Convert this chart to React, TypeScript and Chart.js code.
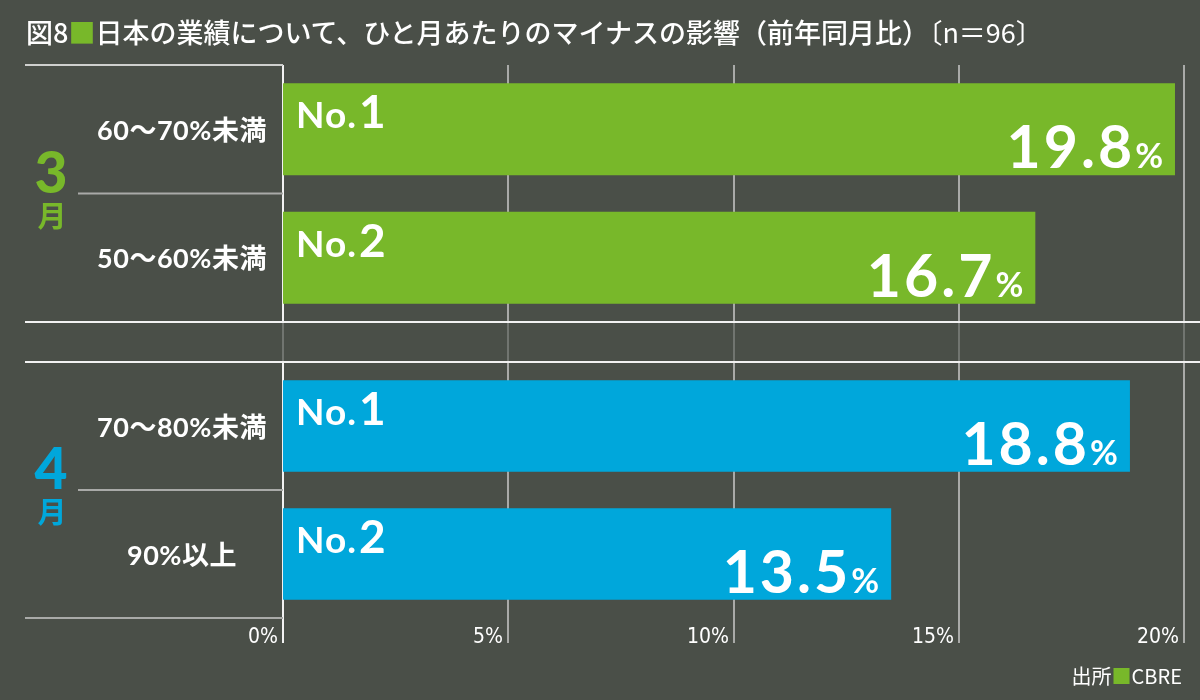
import React, { useEffect, useRef } from 'react';
import { Chart, registerables } from 'chart.js';

Chart.register(...registerables);

// ---- chart content ----
const TITLE_FIG = '図8';
const TITLE_TEXT = '日本の業績について、ひと月あたりのマイナスの影響（前年同月比）';
const TITLE_NOTE = '〔n＝96〕';
const SOURCE_LABEL = '出所';
const SOURCE_NAME = 'CBRE';

const monthNumbers = ['3', '4'];
const monthUnit = '月';
const marchCategories = ['60〜70%未満', '50〜60%未満'];
const marchValues = [19.8, 16.7];
const aprilCategories = ['70〜80%未満', '90%以上'];
const aprilValues = [18.8, 13.5];
const rankLabels = ['No.1', 'No.2'];
const xTickValues = [0, 5, 10, 15, 20];

// ---- look ----
const W = 1200;
const H = 700;
const BG = '#4a4f48';
const GREEN = '#78b82a';
const BLUE = '#00a7db';
const PLOT_LEFT = 283;
const PLOT_RIGHT = 1184;
const LINE_LEFT = 25;
const SUBLINE_LEFT = 78;
const LABEL_CENTER_X = 182;
const MONTH_CENTER_X = 51;
const GAP = 40;
const TICK_DROP = 25;
const JP = "'Noto Sans CJK JP', sans-serif";
const NUM = "Lato, 'Noto Sans CJK JP', sans-serif";
const COND = "'Liberation Sans Narrow', 'DejaVu Sans Condensed', 'Roboto', sans-serif";

type PanelOpts = {
  key: string;
  month: string;
  color: string;
  categories: string[];
  values: number[];
  top: number;
  bottom: number;
  first: boolean;
  last: boolean;
};

function hLine(ctx: CanvasRenderingContext2D, x1: number, x2: number, y: number, color: string) {
  ctx.strokeStyle = color;
  ctx.lineWidth = 2;
  ctx.beginPath();
  ctx.moveTo(x1, y);
  ctx.lineTo(x2, y);
  ctx.stroke();
}

function vLine(ctx: CanvasRenderingContext2D, x: number, y1: number, y2: number, color: string) {
  ctx.strokeStyle = color;
  ctx.lineWidth = 2;
  ctx.beginPath();
  ctx.moveTo(x, y1);
  ctx.lineTo(x, y2);
  ctx.stroke();
}

function setSpacing(ctx: any, px: number) {
  if ('letterSpacing' in ctx) ctx.letterSpacing = `${px}px`;
}

function panelPlugin(o: PanelOpts) {
  return {
    id: 'panel-' + o.key,
    beforeDatasetsDraw(chart: any) {
      const { ctx, chartArea: a, scales } = chart;
      const xs = scales.x;
      const ys = scales.y;
      ctx.save();

      // vertical grid lines
      const gridBottom = o.last ? a.bottom + TICK_DROP : a.bottom;
      xTickValues.forEach((v) => {
        const px = Math.round(xs.getPixelForValue(v));
        vLine(ctx, px, a.top, gridBottom, v === 0 ? '#f2f2f2' : '#a9aaa8');
        if (!o.first) {
          vLine(ctx, px, a.top - GAP, a.top, 'rgba(255,255,255,0.22)');
        }
      });

      // horizontal rules of the label column
      if (o.first) hLine(ctx, LINE_LEFT, a.left, a.top, '#cfd0ce');
      else hLine(ctx, LINE_LEFT, W, a.top, '#f2f2f2');
      if (o.last) hLine(ctx, LINE_LEFT, a.left, a.bottom, '#a9aaa8');
      else hLine(ctx, LINE_LEFT, W, a.bottom, '#f2f2f2');
      const mid = (ys.getPixelForValue(0) + ys.getPixelForValue(1)) / 2;
      hLine(ctx, SUBLINE_LEFT, a.left, mid, '#a9aaa8');

      // category labels
      ctx.fillStyle = '#ffffff';
      ctx.font = `bold 27px ${NUM}`;
      setSpacing(ctx, 0.5);
      ctx.textAlign = 'center';
      ctx.textBaseline = 'middle';
      o.categories.forEach((c, i) => {
        ctx.fillText(c, LABEL_CENTER_X, ys.getPixelForValue(i) + 2);
      });
      setSpacing(ctx, 0);

      // month label
      ctx.fillStyle = o.color;
      ctx.font = `900 57px ${NUM}`;
      ctx.textBaseline = 'alphabetic';
      ctx.fillText(o.month, MONTH_CENTER_X, mid - 1);
      ctx.font = `bold 29px ${JP}`;
      ctx.textBaseline = 'middle';
      ctx.fillText(monthUnit, MONTH_CENTER_X + 1, mid + 22);

      // x tick labels
      if (o.last) {
        ctx.fillStyle = '#ffffff';
        ctx.font = `21px ${COND}`;
        ctx.textAlign = 'right';
        ctx.textBaseline = 'alphabetic';
        xTickValues.forEach((v) => {
          const px = Math.round(xs.getPixelForValue(v));
          ctx.fillText(`${v}%`, px - 5, a.bottom + TICK_DROP);
        });
      }
      ctx.restore();
    },
    afterDatasetsDraw(chart: any) {
      const { ctx } = chart;
      const meta = chart.getDatasetMeta(0);
      ctx.save();
      ctx.fillStyle = '#ffffff';
      meta.data.forEach((bar: any, i: number) => {
        const { x, y, base, height } = bar.getProps(['x', 'y', 'base', 'height'], true);
        const top = y - height / 2;
        const bottom = y + height / 2;

        // rank label
        const rank = rankLabels[i];
        const prefix = rank.slice(0, rank.length - 1);
        const digit = rank.slice(rank.length - 1);
        ctx.textAlign = 'left';
        ctx.textBaseline = 'alphabetic';
        ctx.font = `bold 37px ${NUM}`;
        setSpacing(ctx, 1);
        const px0 = base + 13;
        ctx.fillText(prefix, px0, top + 45);
        const pw = ctx.measureText(prefix).width;
        ctx.font = `bold 46px ${NUM}`;
        ctx.fillText(digit, px0 + pw + 2, top + 45);

        // value label
        const v = o.values[i];
        ctx.textAlign = 'right';
        ctx.font = `bold 34px ${NUM}`;
        setSpacing(ctx, 0);
        const right = x - 12;
        ctx.fillText('%', right, bottom - 7);
        const w = ctx.measureText('%').width;
        ctx.font = `bold 59px ${NUM}`;
        setSpacing(ctx, 3);
        ctx.fillText(v.toFixed(1), right - w, bottom - 7);
        setSpacing(ctx, 0);
      });
      ctx.restore();
    },
  };
}

function makeConfig(o: PanelOpts): any {
  return {
    type: 'bar',
    data: {
      labels: o.categories,
      datasets: [
        {
          data: o.values,
          backgroundColor: o.color,
          borderWidth: 0,
          categoryPercentage: 1,
          barPercentage: 0.716,
        },
      ],
    },
    options: {
      animation: false,
      responsive: false,
      maintainAspectRatio: false,
      indexAxis: 'y',
      layout: {
        padding: { left: PLOT_LEFT, right: W - PLOT_RIGHT, top: o.top, bottom: H - o.bottom },
      },
      scales: {
        x: { type: 'linear', min: 0, max: 20, display: false },
        y: { type: 'category', display: false },
      },
      plugins: {
        legend: { display: false },
        tooltip: { enabled: false },
      },
    },
    plugins: [panelPlugin(o)],
  };
}

const panels: PanelOpts[] = [
  {
    key: 'mar',
    month: monthNumbers[0],
    color: GREEN,
    categories: marchCategories,
    values: marchValues,
    top: 65,
    bottom: 322,
    first: true,
    last: false,
  },
  {
    key: 'apr',
    month: monthNumbers[1],
    color: BLUE,
    categories: aprilCategories,
    values: aprilValues,
    top: 362,
    bottom: 618,
    first: false,
    last: true,
  },
];

export default function App() {
  const topRef = useRef<HTMLCanvasElement>(null);
  const bottomRef = useRef<HTMLCanvasElement>(null);

  useEffect(() => {
    const charts: Chart[] = [];
    if (topRef.current) charts.push(new Chart(topRef.current, makeConfig(panels[0])));
    if (bottomRef.current) charts.push(new Chart(bottomRef.current, makeConfig(panels[1])));
    return () => charts.forEach((c) => c.destroy());
  }, []);

  const canvasStyle: React.CSSProperties = { position: 'absolute', left: 0, top: 0, width: W, height: H };

  return (
    <div style={{ position: 'relative', width: W, height: H, background: BG, overflow: 'hidden' }}>
      <style>{'body{margin:0;}'}</style>
      <canvas ref={topRef} width={W} height={H} style={canvasStyle} />
      <canvas ref={bottomRef} width={W} height={H} style={canvasStyle} />
      <div
        style={{
          position: 'absolute',
          left: 26,
          top: 14,
          color: '#ffffff',
          fontFamily: JP,
          fontWeight: 500,
          fontSize: 27,
          lineHeight: '36px',
          whiteSpace: 'nowrap',
        }}
      >
        {TITLE_FIG}
        <span style={{ color: GREEN }}>■</span>
        {TITLE_TEXT}
        <span style={{ fontWeight: 400 }}>{TITLE_NOTE}</span>
      </div>
      <div
        style={{
          position: 'absolute',
          right: 18,
          top: 662,
          color: '#ffffff',
          fontFamily: JP,
          fontSize: 20,
          lineHeight: '28px',
          whiteSpace: 'nowrap',
        }}
      >
        {SOURCE_LABEL}
        <span style={{ color: GREEN }}>■</span>
        {SOURCE_NAME}
      </div>
    </div>
  );
}
